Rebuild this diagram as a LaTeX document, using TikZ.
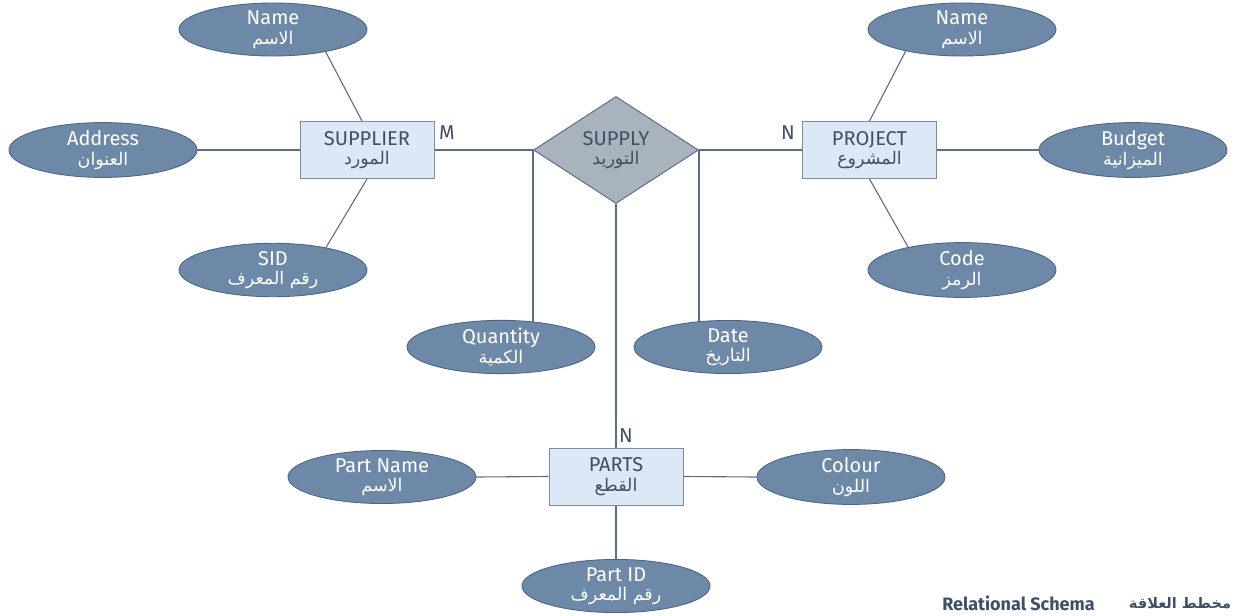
\documentclass[tikz,border=0pt]{standalone}
\usepackage{fontspec}
\setmainfont{Fira Sans}
\newfontfamily\arabicfont[Script=Arabic]{DejaVu Sans}
\TeXXeTstate=1
\usetikzlibrary{shapes.geometric,backgrounds,calc}
\definecolor{ellfill}{HTML}{6E89A8}
\definecolor{ellborder}{HTML}{4F6584}
\definecolor{boxfill}{HTML}{DCE8F5}
\definecolor{boxborder}{HTML}{7A8CA3}
\definecolor{dmdfill}{HTML}{A9B3BD}
\definecolor{dmdborder}{HTML}{5D6E84}
\definecolor{linecol}{HTML}{5D6E84}
\definecolor{darktext}{HTML}{3E4F66}
\newcommand{\artxt}[1]{{\arabicfont\fontsize{17.5}{19.5}\selectfont\beginR #1\endR}}
\tikzset{
  attr/.style={ellipse, draw=ellborder, fill=ellfill, line width=0.9pt,
    minimum width=188pt, minimum height=50pt, inner sep=0pt, text=white,
    align=center, font=\fontsize{20}{19.5}\selectfont},
  entity/.style={rectangle, draw=boxborder, fill=boxfill, line width=1pt,
    minimum width=134pt, minimum height=57pt, inner sep=0pt, text=darktext,
    align=center, font=\fontsize{20}{19.5}\selectfont},
  relship/.style={diamond, draw=dmdborder, fill=dmdfill, line width=1pt,
    minimum width=165pt, minimum height=107pt, inner sep=0pt, text=darktext,
    align=center, font=\fontsize{20}{19.5}\selectfont},
  conn/.style={draw=linecol, line width=1.1pt},
  card/.style={text=darktext, font=\fontsize{20}{21}\selectfont, inner sep=0pt}
}
\begin{document}
\begin{tikzpicture}[x=1pt,y=-1pt]
\useasboundingbox (0,0) rectangle (1235,616);
% entities and relationship
\node[entity] (supp) at (367,150) {SUPPLIER\\\artxt{المورد}};
\node[relship] (sup) at (616,150) {SUPPLY\\\artxt{التوريد}};
\node[entity] (proj) at (869.5,150) {PROJECT\\\artxt{المشروع}};
\node[entity] (parts) at (616,476.5) {PARTS\\\artxt{القطع}};
% attributes
\node[attr] (sname) at (273,29.5) {Name\\\artxt{الاسم}};
\node[attr] (saddr) at (103,150) {Address\\\artxt{العنوان}};
\node[attr] (sid) at (273,270) {SID\\\artxt{رقم المعرف}};
\node[attr] (pname) at (962,29.5) {Name\\\artxt{الاسم}};
\node[attr] (pbudget) at (1133,150) {Budget\\\artxt{الميزانية}};
\node[attr] (pcode) at (962,270) {Code\\\artxt{الرمز}};
\node[attr] (qty) at (501,347) {Quantity\\\artxt{الكمية}};
\node[attr] (date) at (728,347) {Date\\\artxt{التاريخ}};
\node[attr] (ptname) at (382,477) {Part Name\\\artxt{الاسم}};
\node[attr] (colour) at (851,477) {Colour\\\artxt{اللون}};
\node[attr] (ptid) at (616,586) {Part ID\\\artxt{رقم المعرف}};
% cardinalities
\node[card] (cm) at (447,133) {M};
\node[card] (cn1) at (788,133) {N};
\node[card] (cn2) at (626,436) {N};
% caption
\node[text=darktext, font=\fontsize{18}{20}\selectfont\bfseries, inner sep=0pt] (capen) at (1018.5,603.5) {Relational Schema};
\node[text=darktext, inner sep=0pt] (capar) at (1180,603.5) {{\arabicfont\bfseries\fontsize{14.5}{17}\selectfont\beginR مخطط العلاقة\endR}};
% connectors
\begin{pgfonlayer}{background}
\draw[conn] (supp.east) -- (sup.west);
\draw[conn] (sup.east) -- (proj.west);
\draw[conn] (sup.south) -- (parts.north);
\draw[conn] (sup.west) -- (sup.west |- qty.center);
\draw[conn] (sup.east) -- (sup.east |- date.center);
\draw[conn] (sname.-23) -- ($(supp.north)+(-5,0)$);
\draw[conn] (saddr.east) -- (supp.west);
\draw[conn] (sid.23) -- (supp.south);
\draw[conn] (pname.-159) -- (proj.north);
\draw[conn] (proj.east) -- (pbudget.west);
\draw[conn] (pcode.157) -- (proj.south);
\draw[conn] (ptname.east) -- (parts.west);
\draw[conn] (parts.east) -- (colour.west);
\draw[conn] (parts.south) -- (ptid.north);
\end{pgfonlayer}
\end{tikzpicture}
\end{document}
